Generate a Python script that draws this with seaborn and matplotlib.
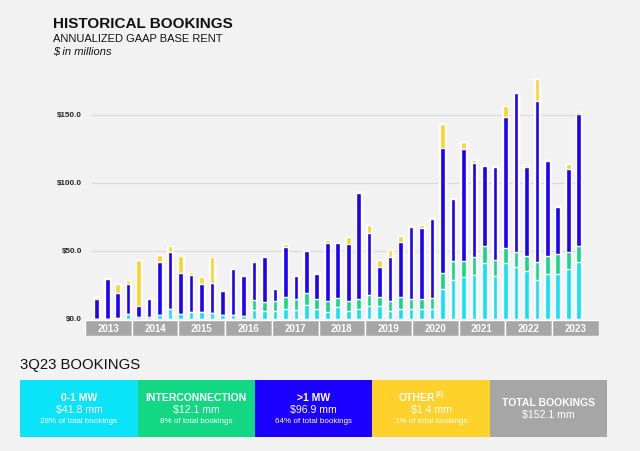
import matplotlib
matplotlib.use("Agg")
import matplotlib.pyplot as plt
from matplotlib.patches import Rectangle
import numpy as np
import pandas as pd
import seaborn as sns

# quarterly bookings, $ millions
quarters = [f"{q}Q{y % 100:02d}" for y in range(2012, 2024) for q in range(1, 5)][:47]

zero_one_mw = [0.3, 0.3, 0.4, 3.4, 1.7, 1.5, 3.0, 7.4, 3.7, 5.4, 5.0, 4.4, 3.2, 3.0, 2.2, 6.6,
               5.9, 5.6, 7.4, 6.9, 10.3, 7.4, 5.4, 8.8, 5.9, 7.1, 9.8, 9.6, 6.1, 7.4, 7.1, 7.6,
               7.4, 21.8, 28.9, 30.6, 32.1, 41.0, 31.6, 41.4, 38.2, 35.1, 28.7, 32.8, 33.3, 36.5, 41.8]
interconnection = [0, 0, 0, 0, 0, 0, 0, 0, 0, 0, 0, 0, 0, 0, 0, 7.1,
                   6.8, 7.4, 8.5, 7.6, 8.6, 7.3, 7.8, 6.4, 7.1, 7.6, 7.8, 6.6, 7.4, 8.8, 7.8, 6.9,
                   8.0, 11.8, 13.5, 12.0, 13.3, 12.4, 11.5, 10.6, 11.1, 11.4, 13.0, 13.5, 14.5, 12.5, 12.1]
over_one_mw = [14.4, 29.4, 19.0, 22.1, 7.6, 12.9, 38.9, 41.6, 29.9, 27.2, 21.0, 22.3, 17.6, 33.5, 29.7, 28.2,
               32.6, 8.8, 37.3, 17.4, 30.9, 18.1, 42.4, 40.4, 42.4, 78.0, 45.9, 22.0, 32.1, 40.7, 53.0, 52.6,
               58.1, 92.4, 45.8, 82.2, 69.6, 58.9, 68.7, 96.8, 117.1, 65.0, 118.6, 70.1, 34.8, 61.5, 96.9]
other = [1.5, 0.7, 6.1, 2.9, 34.1, 1.0, 4.9, 4.9, 12.5, 2.0, 4.9, 18.6, 0.3, 0.5, 0.3, 1.2,
         0.8, 0.3, 1.7, 0.4, 0.3, 1.0, 2.3, 0.3, 4.9, 0.5, 5.4, 5.2, 5.1, 4.4, 0.5, 1.8,
         1.0, 17.4, 0.5, 5.3, 1.7, 0.4, 0.5, 7.6, 0.4, 1.7, 15.9, 0.5, 0.5, 3.2, 1.4]

year_labels = [str(y) for y in range(2013, 2024)]

# 3Q23 summary boxes
box_labels = ["0-1 MW", "INTERCONNECTION", ">1 MW", "OTHER", "TOTAL BOOKINGS"]
box_values = ["$41.8 mm", "$12.1 mm", "$96.9 mm", "$1.4 mm", "$152.1 mm"]
box_shares = ["28% of total bookings", "8% of total bookings", "64% of total bookings",
              "1% of total bookings", None]

BG = "#F2F2F2"
CYAN, GREEN, BLUE, YELLOW, GRAY = "#0BE3F8", "#12D884", "#1B00FF", "#FFD12B", "#A6A6A6"

sns.set_style("white")
plt.rcParams["font.family"] = ["Liberation Sans", "DejaVu Sans"]

df = pd.DataFrame({"quarter": quarters, "c": zero_one_mw, "g": interconnection,
                   "b": over_one_mw, "o": other})
df["lvl1"] = df["c"]
df["lvl2"] = df["lvl1"] + df["g"]
df["lvl3"] = df["lvl2"] + df["b"]
df["lvl4"] = df["lvl3"] + df["o"]

W, H = 640, 451
fig = plt.figure(figsize=(W / 100, H / 100), dpi=100, facecolor=BG)


def fx(px):
    return px / W


def fy(py):
    return (H - py) / H


# main bar chart
ax = fig.add_axes([fx(92), fy(319), fx(584 - 92), (319 - 74.2) / H])
ax.set_facecolor(BG)
for yv in [50, 100, 150]:
    ax.axhline(yv, color="#D9D9D9", lw=0.8, zorder=0)

# white halo behind bars, then layered cumulative heights
sns.barplot(data=df, x="quarter", y="lvl4", order=quarters, color="white", width=0.58,
            saturation=1, errorbar=None, ax=ax, zorder=2)
for col, c in [("lvl4", YELLOW), ("lvl3", BLUE), ("lvl2", GREEN), ("lvl1", CYAN)]:
    sns.barplot(data=df, x="quarter", y=col, order=quarters, color=c, width=0.44,
                saturation=1, errorbar=None, ax=ax, zorder=3)

ax.set_xlim(-0.45, 46.5)
ax.set_ylim(0, 180)
ax.set_yticks([0, 50, 100, 150])
ax.set_yticklabels(["$0.0", "$50.0", "$100.0", "$150.0"], fontsize=5.8,
                   fontweight="bold", color="#222222")
ax.set_xticks([])
ax.set_xlabel("")
ax.set_ylabel("")
ax.tick_params(axis="y", length=0, pad=7.2)
sns.despine(ax=ax, left=True, bottom=True)

# year band under the bars
axb = fig.add_axes([fx(85), fy(335.5), fx(598.7 - 85), 15.5 / H])
axb.bar(range(len(year_labels)), [1] * len(year_labels), width=1, color=GRAY)
for i in range(1, len(year_labels)):
    axb.axvline(i - 0.5, color="white", lw=0.8, ls=(0, (1, 1.5)))
for i, lab in enumerate(year_labels):
    axb.text(i, 0.45, lab, ha="center", va="center", color="white",
             fontsize=7, fontweight="bold")
axb.set_xlim(-0.5, len(year_labels) - 0.5)
axb.set_ylim(0, 1)
axb.axis("off")

# titles
fig.text(fx(52.7), fy(28.3), "HISTORICAL BOOKINGS", fontsize=11, fontweight="bold",
         color="#111111", va="baseline")
fig.text(fx(52.7), fy(42.3), "ANNUALIZED GAAP BASE RENT", fontsize=8,
         color="#111111", va="baseline")
fig.text(fx(52.7), fy(55.5), "$ in millions", fontsize=8, style="italic",
         color="#111111", va="baseline")

fig.text(fx(20), fy(365.5), "3Q23 BOOKINGS", fontsize=10.7, color="#111111", va="center")

# summary boxes
edges = [20.4, 137.6, 255, 372, 490, 607]
box_colors = [CYAN, GREEN, BLUE, YELLOW, GRAY]
top, bot = 380, 437
for i, lab in enumerate(box_labels):
    x0, x1 = edges[i], edges[i + 1]
    fig.add_artist(Rectangle((fx(x0), fy(bot)), fx(x1 - x0), (bot - top) / H,
                             transform=fig.transFigure, color=box_colors[i], lw=0))
    cx = (x0 + x1) / 2
    if box_shares[i] is None:
        fig.text(fx(cx), fy(402.8), lab, ha="center", va="center", color="white",
                 fontsize=7.5, fontweight="bold")
        fig.text(fx(cx), fy(415.3), box_values[i], ha="center", va="center",
                 color="white", fontsize=7.6)
        continue
    if lab == "OTHER":
        fig.text(fx(cx + 4), fy(397.8), lab, ha="right", va="center", color="white",
                 fontsize=7.5, fontweight="bold")
        fig.text(fx(cx + 4.5), fy(394.5), "(1)", ha="left", va="center", color="white",
                 fontsize=4.8, fontweight="bold")
    else:
        fig.text(fx(cx), fy(397.8), lab, ha="center", va="center", color="white",
                 fontsize=7.5, fontweight="bold")
    fig.text(fx(cx), fy(410.3), box_values[i], ha="center", va="center",
             color="white", fontsize=7.6)
    fig.text(fx(cx), fy(421.6), box_shares[i], ha="center", va="center",
             color="white", fontsize=5.8)

fig.savefig("out.png", dpi=100, facecolor=BG)
